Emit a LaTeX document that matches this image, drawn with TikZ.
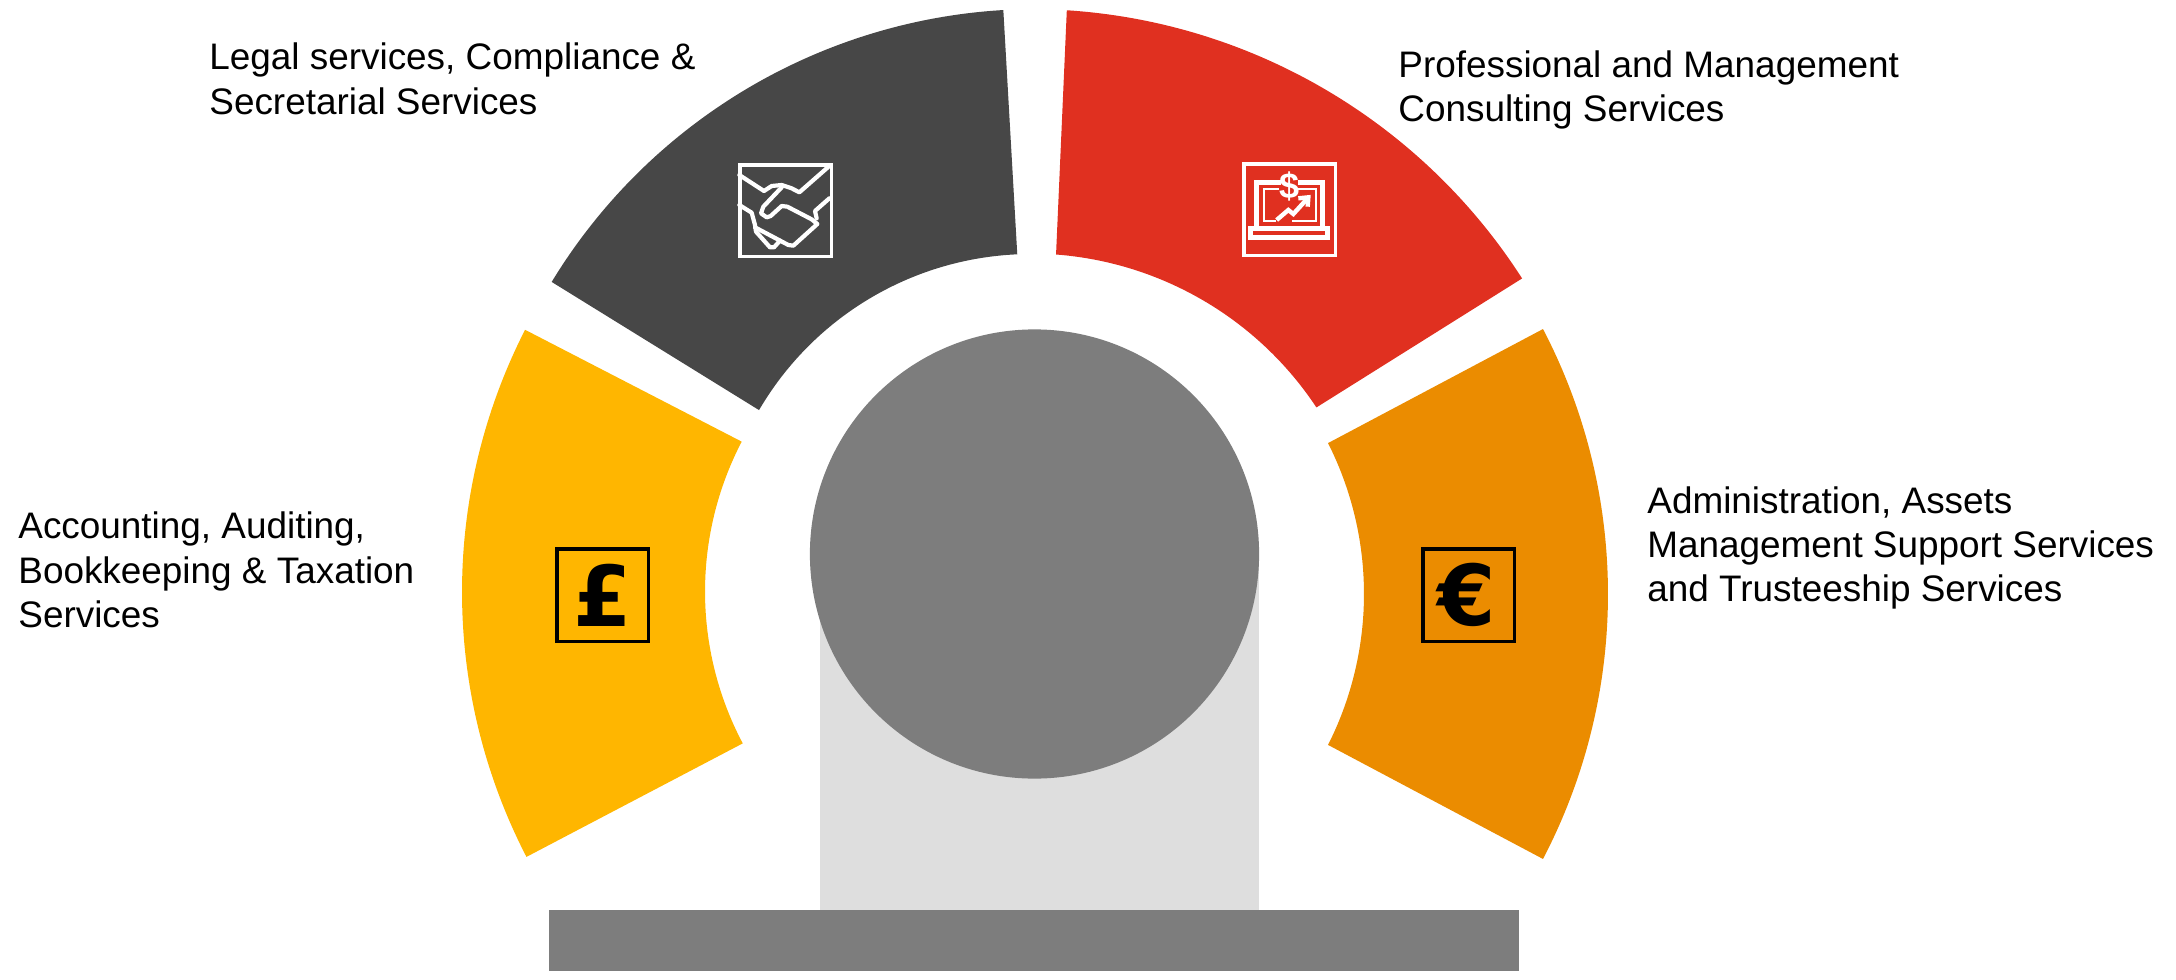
\documentclass[tikz,border=0pt]{standalone}
\usepackage{fontspec}
\setmainfont{Liberation Sans}
\newfontfamily\iconfont{DejaVu Sans}
\usetikzlibrary{calc}
\definecolor{cdark}{HTML}{474747}
\definecolor{cred}{HTML}{E03020}
\definecolor{cyellow}{HTML}{FFB600}
\definecolor{corange}{HTML}{EB8C00}
\definecolor{cgrey}{HTML}{7D7D7D}
\definecolor{clight}{HTML}{DEDEDE}
% colour; outer centre, radius(pt), from, to; inner centre, radius(pt), from, to
\newcommand{\sectorshape}[9]{%
  \fill[#1] ($(#2)+(#4:#3pt)$) arc[start angle=#4,end angle=#5,radius=#3pt]
   -- ($(#6)+(#8:#7pt)$) arc[start angle=#8,end angle=#9,radius=#7pt] -- cycle;}
\tikzset{
  label text/.style={anchor=west,align=left,font=\fontsize{18.45pt}{22.2pt}\selectfont,inner sep=0pt,text=black},
  iconbox/.style={line width=1.75pt,fill=none},
  iconline/.style={draw=white,line width=2.1pt,line join=round,line cap=round},
  screenline/.style={draw=white,line width=2.2pt,line join=miter,line cap=butt},
  currency/.style={font=\iconfont\fontsize{42pt}{42pt}\selectfont\bfseries,inner sep=0pt,text=black},
}
\begin{document}
\begin{tikzpicture}[x=0.5pt,y=-0.5pt]
\useasboundingbox (0,0) rectangle (2176,980);
% sectors
\sectorshape{cdark}{1037,577}{284}{148.7}{93.4}{1031,569}{157.5}{92.5}{149.7}
\sectorshape{cred}{1029,595}{293}{86.3}{32.7}{1030,597}{171.75}{33.5}{85.65}
\sectorshape{cyellow}{1038.6,592}{288.3}{152.95}{207.35}{1029.6,591.5}{162.3}{207.9}{152.5}
\sectorshape{corange}{1035.3,594}{286.35}{27.56}{-27.56}{1029.3,594}{167.35}{-26.8}{26.8}
% pedestal
\fill[clight] (820,555) rectangle (1259,910);
\fill[cgrey] (1034.5,554) circle [radius=112.3pt];
\fill[cgrey] (548.5,910) rectangle (1519,971);
% boxes
\draw[iconbox,draw=white] (739.75,164.75) rectangle (831.25,256.25);
\draw[iconbox,draw=white] (1243.75,163.75) rectangle (1335.25,255.25);
\draw[iconbox,draw=black] (556.75,548.75) rectangle (648.25,641.25);
\draw[iconbox,draw=black] (1422.75,548.75) rectangle (1514.25,641.25);
% currency
\node[currency] (pound) at (603,595) {£};
\node[currency] (euro) at (1467,595) {€};
% handshake
\begin{scope}[shift={(700,130)},x=0.16667pt,y=-0.16667pt]
\draw[iconline] (118,135) -- (192,183) -- (215,168) -- (245,165) -- (275,175) -- (298,187) -- (388,108);
\draw[iconline] (245,172) -- (190,230) -- (183,250) -- (200,262) -- (212,258) -- (245,228) -- (262,230) -- (335,268) -- (352,282) -- (280,347) -- (265,345) -- (165,292);
\draw[iconline] (118,225) -- (155,248) -- (165,285) -- (168,305) -- (210,352) -- (222,352) -- (240,332);
\draw[iconline] (388,205) -- (345,243) -- (350,265);
\end{scope}
% laptop
\begin{scope}[shift={(1210,140)},x=0.16667pt,y=-0.16667pt]
\draw[screenline] (212,127) -- (140,127) -- (140,262);
\draw[screenline] (265,127) -- (338,127) -- (338,262);
\draw[screenline,line width=1.4pt] (208,147) -- (162,147) -- (162,243) -- (198,243);
\draw[screenline,line width=1.4pt] (265,147) -- (318,147) -- (318,243) -- (245,243);
\draw[screenline] (122,265) rectangle (353,292);
\draw[screenline] (200,240) -- (235,210) -- (250,222) -- (290,178);
\draw[screenline] (265,175) -- (295,172) -- (293,200);
\node[inner sep=0pt,text=white,font=\fontsize{18pt}{18pt}\selectfont\bfseries] (dollar) at (238,140) {\$};
\end{scope}
% labels
\node[label text] (legal) at (209,79) {Legal services, Compliance \&\\Secretarial Services};
\node[label text] (prof) at (1398,90) {Professional and Management\\Consulting Services};
\node[label text] (acc) at (18,570) {Accounting, Auditing,\\Bookkeeping \& Taxation\\Services};
\node[label text] (admin) at (1647,548) {Administration, Assets\\Management Support Services\\and Trusteeship Services};
\end{tikzpicture}
\end{document}
